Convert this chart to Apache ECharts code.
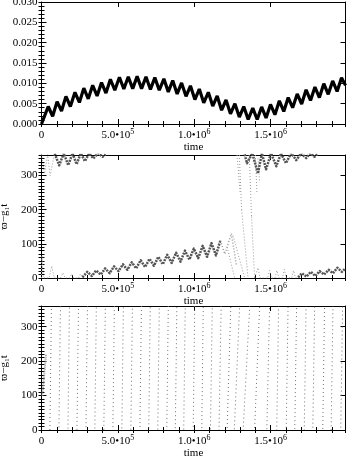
<!DOCTYPE html>
<html>
<head>
<meta charset="utf-8">
<script src="https://cdn.jsdelivr.net/npm/echarts@6/dist/echarts.min.js"></script>
<style>
  html, body { margin: 0; padding: 0; background: #fff; }
  #chart { width: 347px; height: 457px; }
</style>
</head>
<body>
<div id="chart"></div>
<script>
/* ---------------- Data (time in units of 1000) ---------------- */
const X_MAX = 1990;

// top panel: eccentricity, start / peaks / troughs
const eTime = [0, 44, 73, 102, 131, 160, 189, 219, 248, 277, 306, 335, 364, 393, 422, 451, 480, 510, 539, 568, 597, 626, 655, 684, 713, 742, 771, 801, 830, 859, 888, 917, 946, 975, 1004, 1033, 1062, 1092, 1121, 1150, 1179, 1208, 1237, 1266, 1295, 1324, 1353, 1383, 1412, 1441, 1470, 1499, 1528, 1557, 1586, 1615, 1644, 1674, 1703, 1732, 1761, 1790, 1819, 1848, 1877, 1906, 1935, 1964, 1990];
const eVal = [0.0000, 0.0043, 0.0019, 0.0055, 0.0032, 0.0068, 0.0043, 0.0078, 0.0053, 0.0088, 0.0062, 0.0095, 0.0069, 0.0102, 0.0076, 0.0110, 0.0083, 0.0115, 0.0086, 0.0116, 0.0087, 0.0117, 0.0087, 0.0116, 0.0085, 0.0114, 0.0083, 0.0111, 0.0079, 0.0107, 0.0074, 0.0101, 0.0068, 0.0094, 0.0060, 0.0086, 0.0052, 0.0078, 0.0044, 0.0069, 0.0034, 0.0059, 0.0025, 0.0050, 0.0017, 0.0043, 0.0011, 0.0039, 0.0011, 0.0042, 0.0015, 0.0048, 0.0023, 0.0057, 0.0031, 0.0065, 0.0040, 0.0074, 0.0049, 0.0084, 0.0058, 0.0091, 0.0065, 0.0099, 0.0073, 0.0106, 0.0080, 0.0114, 0.0095];

// middle panel: varpi - g1 t
const leftSpikeT = [0, 3, 12, 50, 67, 84, 125, 140, 155, 185, 197, 210, 243, 255, 268];
const leftSpikeV = [0, 65, 0, 0, 35, 0, 0, 15, 0, 0, 12, 0, 0, 12, 2];

const upperLightT = [0, 20, 40, 56, 86];
const upperLightV = [362, 305, 362, 300, 365];
const upperLeftT = [86, 116, 146, 175, 203, 230, 257, 284, 312, 339, 370, 400, 420];
const upperLeftV = [365, 330, 365, 330, 365, 333, 365, 342, 365, 350, 365, 355, 362];

const lowBandT = [268, 300, 330, 358, 388, 417, 446, 475, 504, 533, 562, 591, 620, 649, 678, 707, 736, 765, 794, 823, 852, 881, 910, 939, 968, 997, 1026, 1055, 1084, 1113, 1142, 1171];
const lowBandV = [2, 18, 6, 22, 10, 28, 14, 34, 20, 40, 24, 46, 28, 52, 32, 56, 36, 62, 40, 68, 44, 74, 48, 80, 54, 86, 58, 94, 62, 102, 66, 110];
const lowFadeT = [1171, 1200, 1243, 1275];
const lowFadeV = [110, 70, 130, 40];

// steep falls through the wrap (t0, v0) -> (t1, v1)
const fallFrom = [[1254, 124], [1295, 360], [1310, 200], [1360, 360], [1375, 180], [1417, 350], [1215, 90], [1280, 360], [1400, 360]];
const fallTo = [[1330, 0], [1310, 200], [1352, 0], [1375, 180], [1395, 0], [1428, 280], [1265, 0], [1300, 250], [1410, 250]];

const upperRightT = [1330, 1345, 1380, 1417, 1443, 1470, 1503, 1537, 1568, 1600, 1634, 1668, 1700, 1733, 1760, 1787, 1805];
const upperRightV = [362, 336, 365, 306, 365, 318, 365, 327, 365, 336, 365, 345, 365, 351, 365, 355, 362];

const rightSpikeT = [1395, 1405, 1417, 1430, 1465, 1480, 1493, 1506, 1528, 1541, 1554, 1577, 1590, 1603, 1637, 1650, 1663, 1680];
const rightSpikeV = [0, 0, 30, 0, 0, 0, 22, 0, 0, 22, 0, 0, 25, 0, 0, 22, 0, 2];
const lowRightT = [1680, 1705, 1734, 1763, 1792, 1821, 1850, 1879, 1908, 1937, 1966, 1990];
const lowRightV = [2, 14, 4, 18, 6, 20, 10, 24, 14, 30, 18, 28];

// bottom panel: circulating angle, each wrap from 0 (bottom) to 360 (top)
const circBottom = [55, 114, 173, 232, 291, 349, 408, 467, 526, 585, 644, 702, 761, 820, 876, 931, 993, 1049, 1106, 1162, 1215, 1262, 1320, 1395, 1475, 1540, 1602, 1658, 1720, 1776, 1841, 1896, 1959];
const circTop = [65, 124, 183, 242, 301, 359, 418, 477, 536, 595, 654, 712, 771, 830, 886, 941, 1003, 1059, 1118, 1176, 1239, 1297, 1363, 1428, 1493, 1552, 1614, 1670, 1732, 1788, 1853, 1908, 1971];
const clusterT = [5, 30];
const clusterV = [100, 220];

// tick labels
const xTickValues = [0, 500, 1000, 1500];
const xTickMantissa = ['0', '5.0•10', '1.0•10', '1.5•10'];
const xTickExp = ['', '5', '6', '6'];

/* ---------------- Helpers ---------------- */
const FONT = "'Liberation Serif', 'DejaVu Serif', serif";
const pairs = (ts, vs) => ts.map((t, i) => [t * 1000, vs[i]]);

const grids = [
  { left: 41.5, top: 2, width: 304, height: 122, containLabel: false, outerBoundsMode: 'none' },
  { left: 41.5, top: 155, width: 304, height: 123, containLabel: false, outerBoundsMode: 'none' },
  { left: 41.5, top: 306, width: 304, height: 124, containLabel: false, outerBoundsMode: 'none' }
];
const yRanges = [
  { max: 0.03, major: 0.005, minor: 0.001, fmt: v => v.toFixed(3) },
  { max: 360, major: 100, minor: 10, fmt: v => String(Math.round(v)) },
  { max: 360, major: 100, minor: 10, fmt: v => String(Math.round(v)) }
];
const yNames = ['e', 'ϖ−g₁t', 'ϖ−g₁t'];
const yNameGaps = [33, 29, 29];

const xAxes = [];
const yAxes = [];
const axisIdx = [];

const xLabel = v => {
  const i = xTickValues.indexOf(Math.round(v / 1000));
  if (i < 0) return '';
  return xTickExp[i] ? `{m|${xTickMantissa[i]}}{e|${xTickExp[i]}}` : `{m|${xTickMantissa[i]}}`;
};

grids.forEach((g, gi) => {
  const r = yRanges[gi];
  const tickCommon = (len) => ({ show: true, inside: true, length: len, lineStyle: { color: '#000', width: 1 } });
  const lineCommon = { show: true, onZero: false, lineStyle: { color: '#000', width: 1 } };
  axisIdx.push({ x: xAxes.length, y: yAxes.length });
  ['bottom', 'top'].forEach(pos => {
    xAxes.push({
      type: 'value', gridIndex: gi, position: pos, min: 0, max: X_MAX * 1000, interval: 500000,
      axisLine: lineCommon, axisTick: tickCommon(5), splitLine: { show: false },
      axisLabel: pos === 'bottom' ? {
        show: true, margin: 4, showMaxLabel: false, formatter: xLabel,
        rich: {
          m: { fontFamily: FONT, fontSize: 11, color: '#000', lineHeight: 15 },
          e: { fontFamily: FONT, fontSize: 8, color: '#000', verticalAlign: 'top', lineHeight: 8 }
        }
      } : { show: false },
      name: pos === 'bottom' ? 'time' : '', nameLocation: 'middle', nameGap: 13,
      nameTextStyle: { fontFamily: FONT, fontSize: 11, color: '#000' }
    });
    xAxes.push({
      type: 'value', gridIndex: gi, position: pos, min: 0, max: X_MAX * 1000, interval: 100000,
      axisLine: { show: false }, axisTick: tickCommon(3), splitLine: { show: false }, axisLabel: { show: false }
    });
  });
  ['left', 'right'].forEach(pos => {
    yAxes.push({
      type: 'value', gridIndex: gi, position: pos, min: 0, max: r.max, interval: r.major,
      axisLine: lineCommon, axisTick: tickCommon(5), splitLine: { show: false },
      axisLabel: pos === 'left' ? {
        show: true, margin: 4, showMaxLabel: gi === 0, formatter: r.fmt,
        fontFamily: FONT, fontSize: 11, color: '#000'
      } : { show: false },
      name: pos === 'left' ? yNames[gi] : '', nameLocation: 'middle', nameGap: yNameGaps[gi], nameRotate: 90,
      nameTextStyle: { fontFamily: FONT, fontSize: 11, color: '#000' }
    });
    yAxes.push({
      type: 'value', gridIndex: gi, position: pos, min: 0, max: r.max, interval: r.minor,
      axisLine: { show: false }, axisTick: tickCommon(3), splitLine: { show: false }, axisLabel: { show: false }
    });
  });
});

const series = [];
const addLine = (gi, data, lineStyle) => series.push({
  type: 'line', xAxisIndex: axisIdx[gi].x, yAxisIndex: axisIdx[gi].y, data,
  symbol: 'none', silent: true, animation: false, clip: true, lineStyle
});

const DENSE = { color: '#555', width: 2.5, type: [2, 1], join: 'round' };
const LIGHT = { color: '#9a9a9a', width: 1, type: [1, 2] };
const CIRC = { color: '#707070', width: 1, type: [1, 3] };

// top
addLine(0, pairs(eTime, eVal), { color: '#000', width: 3.2, join: 'bevel' });

// middle
addLine(1, pairs(leftSpikeT, leftSpikeV), LIGHT);
addLine(1, pairs(upperLightT, upperLightV), LIGHT);
addLine(1, pairs(upperLeftT, upperLeftV), DENSE);
addLine(1, pairs(lowBandT, lowBandV), DENSE);
addLine(1, pairs(lowFadeT, lowFadeV), { ...LIGHT, width: 1.5 });
fallFrom.forEach((p, i) => addLine(1, [[p[0] * 1000, p[1]], [fallTo[i][0] * 1000, fallTo[i][1]]], LIGHT));
addLine(1, pairs(upperRightT, upperRightV), DENSE);
addLine(1, pairs(rightSpikeT, rightSpikeV), LIGHT);
addLine(1, pairs(lowRightT, lowRightV), DENSE);

// bottom: stagger the dot phase so rows don't line up
circBottom.forEach((tb, i) => addLine(2, [[tb * 1000, 0], [circTop[i] * 1000, 360]], { ...CIRC, dashOffset: (i * 1.3) % 4 }));
addLine(2, pairs(clusterT, clusterV), { color: '#999', width: 2, type: [1, 1] });

const chartInstance = echarts.init(document.getElementById('chart'), null, { renderer: 'canvas' });
chartInstance.setOption({
  animation: false,
  grid: grids,
  xAxis: xAxes,
  yAxis: yAxes,
  series
});
</script>
</body>
</html>
